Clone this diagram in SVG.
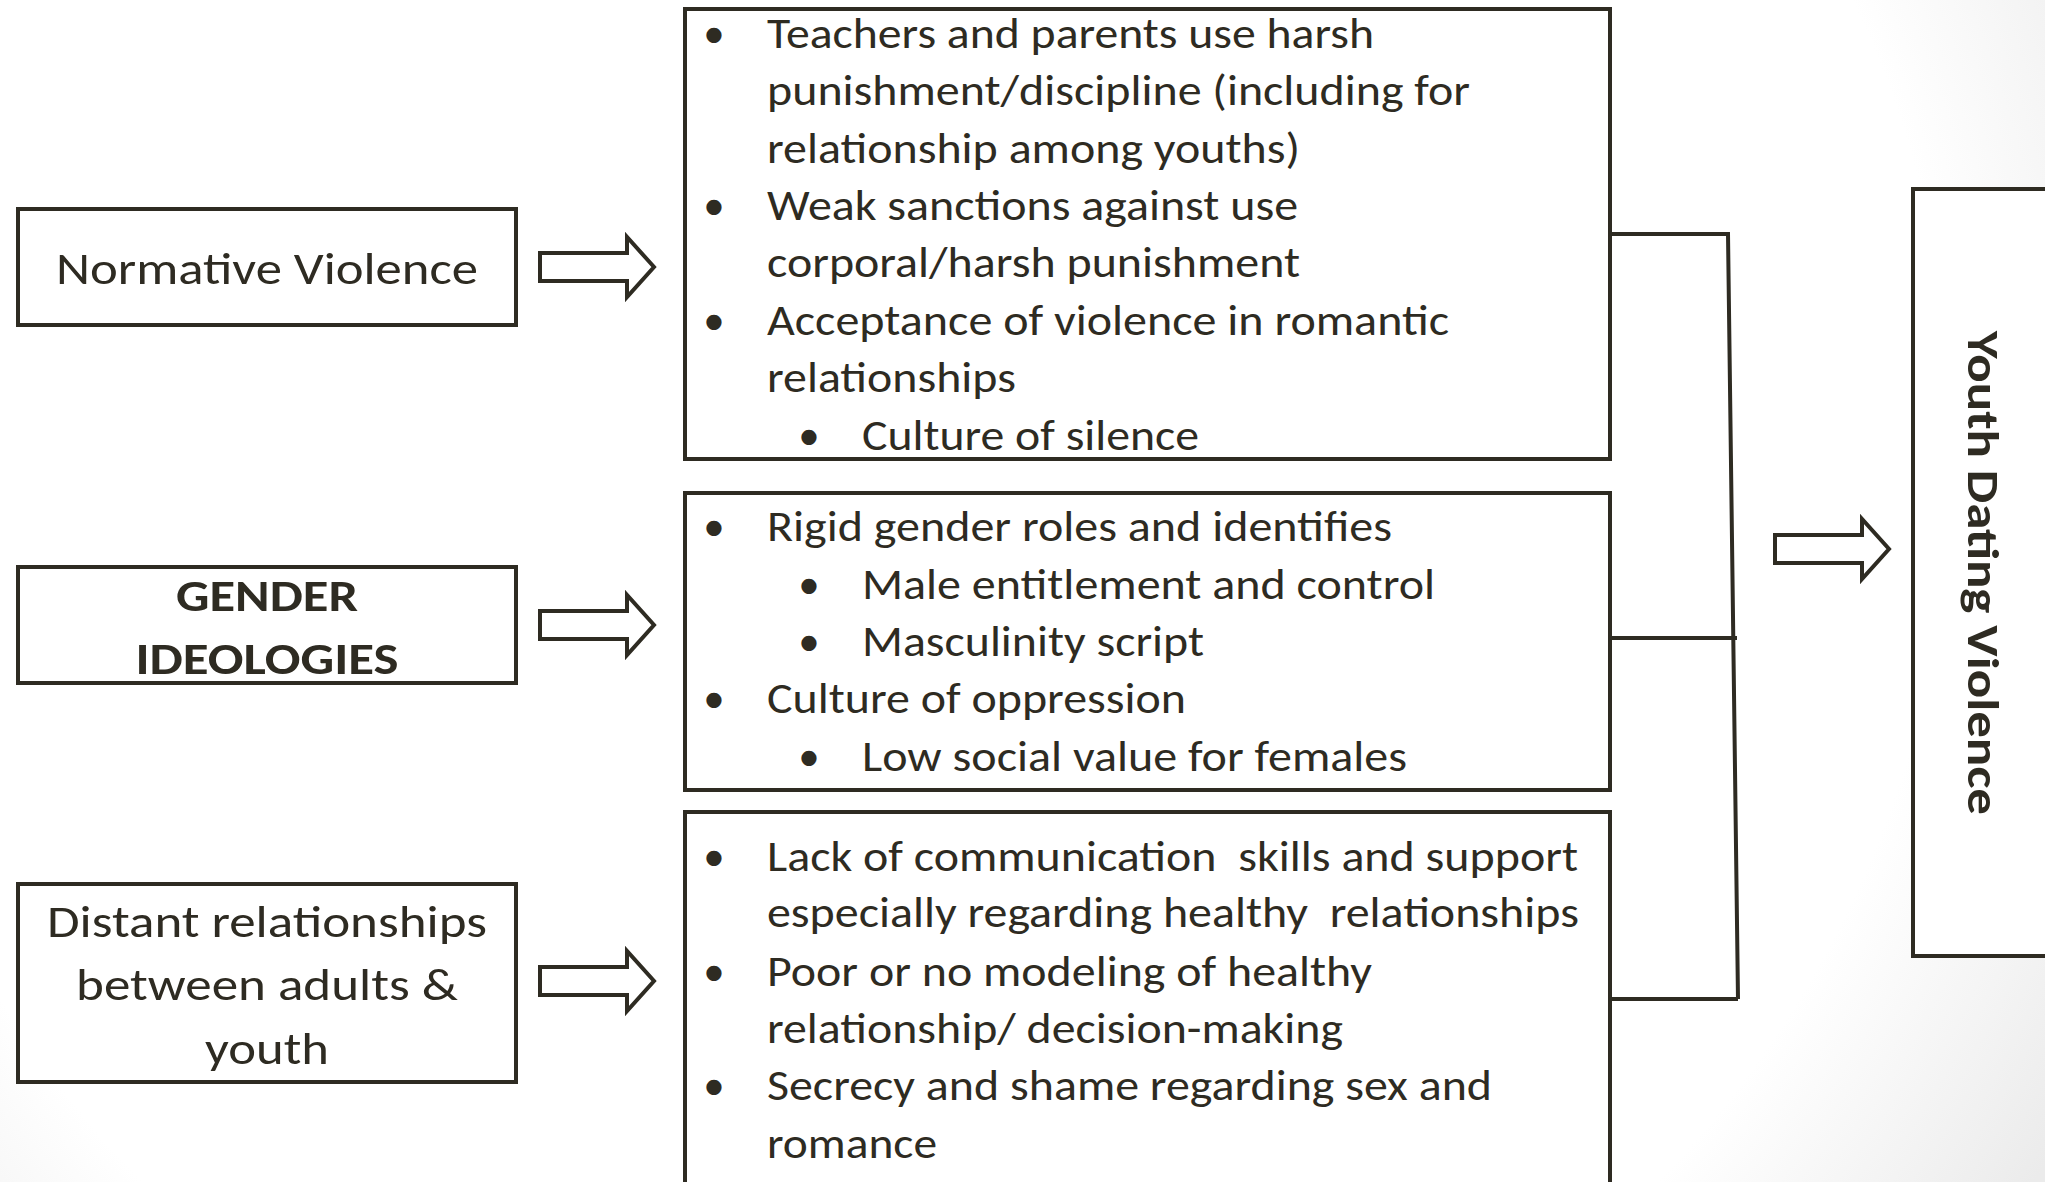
<svg xmlns="http://www.w3.org/2000/svg" width="2045" height="1182" viewBox="0 0 2045 1182">
<defs>
<radialGradient id="bg" cx="900" cy="450" r="1350" gradientUnits="userSpaceOnUse">
<stop offset="0" stop-color="#ffffff"/>
<stop offset="0.78" stop-color="#ffffff"/>
<stop offset="1" stop-color="#ebebeb"/>
</radialGradient>
<path id="arrow" d="M0,-14 H87 V-30 L114,0 L87,30 V14 H0 Z"/>
<style>
.box{fill:#ffffff;stroke:#2e2b22;stroke-width:4;}
.arr{fill:#ffffff;stroke:#2e2b22;stroke-width:4;stroke-linejoin:miter;}
.con{fill:none;stroke:#2e2b22;stroke-width:4;}
.t{font-family:Carlito,Lato,"Noto Sans",sans-serif;fill:#2e2b22;font-size:43px;}
.lt{font-family:Carlito,Lato,"Noto Sans",sans-serif;fill:#2e2b22;font-size:46px;text-anchor:middle;}
.bt{font-family:Carlito,Lato,"Noto Sans",sans-serif;fill:#2e2b22;font-size:45px;font-weight:bold;text-anchor:middle;}
.b{font-family:Carlito,Lato,"Noto Sans",sans-serif;fill:#2e2b22;font-size:43px;text-anchor:middle;}
</style>
</defs>
<rect x="0" y="0" width="2045" height="1182" fill="url(#bg)"/>

<g id="connectors">
<path class="con" d="M1610,234 H1728 L1738,999"/>
<path class="con" d="M1610,638 H1737"/>
<path class="con" d="M1610,999 H1738"/>
<use href="#arrow" class="arr" transform="translate(540,267)"/>
<use href="#arrow" class="arr" transform="translate(540,625)"/>
<use href="#arrow" class="arr" transform="translate(540,981)"/>
<use href="#arrow" class="arr" transform="translate(1775,549)"/>
</g>

<g id="normative-violence">
<rect class="box" x="18" y="209" width="498" height="116"/>
<text class="lt" x="267" y="284" textLength="422" lengthAdjust="spacingAndGlyphs">Normative Violence</text>
</g>

<g id="gender-ideologies">
<rect class="box" x="18" y="567" width="498" height="116"/>
<text class="bt" x="267" y="611" textLength="182" lengthAdjust="spacingAndGlyphs">GENDER</text>
<text class="bt" x="267" y="674" textLength="263" lengthAdjust="spacingAndGlyphs">IDEOLOGIES</text>
</g>

<g id="distant-relationships">
<rect class="box" x="18" y="884" width="498" height="198"/>
<text class="lt" x="267" y="937" textLength="440" lengthAdjust="spacingAndGlyphs">Distant relationships</text>
<text class="lt" x="267" y="1000" textLength="382" lengthAdjust="spacingAndGlyphs">between adults &amp;</text>
<text class="lt" x="267" y="1064" textLength="124" lengthAdjust="spacingAndGlyphs">youth</text>
</g>

<g id="normative-details">
<rect class="box" x="685" y="9" width="925" height="450"/>
<text class="b" x="714" y="48">•</text>
<text class="t" x="767" y="48" textLength="607" lengthAdjust="spacingAndGlyphs">Teachers and parents use harsh</text>
<text class="t" x="767" y="105" textLength="703" lengthAdjust="spacingAndGlyphs">punishment/discipline (including for</text>
<text class="t" x="767" y="163" textLength="533" lengthAdjust="spacingAndGlyphs">relationship among youths)</text>
<text class="b" x="714" y="220">•</text>
<text class="t" x="767" y="220" textLength="531" lengthAdjust="spacingAndGlyphs">Weak sanctions against use</text>
<text class="t" x="767" y="277" textLength="533" lengthAdjust="spacingAndGlyphs">corporal/harsh punishment</text>
<text class="b" x="714" y="335">•</text>
<text class="t" x="767" y="335" textLength="682" lengthAdjust="spacingAndGlyphs">Acceptance of violence in romantic</text>
<text class="t" x="767" y="392" textLength="249" lengthAdjust="spacingAndGlyphs">relationships</text>
<text class="b" x="809" y="450">•</text>
<text class="t" x="862" y="450" textLength="337" lengthAdjust="spacingAndGlyphs">Culture of silence</text>
</g>

<g id="gender-details">
<rect class="box" x="685" y="493" width="925" height="297"/>
<text class="b" x="714" y="541">•</text>
<text class="t" x="767" y="541" textLength="625" lengthAdjust="spacingAndGlyphs">Rigid gender roles and identifies</text>
<text class="b" x="809" y="599">•</text>
<text class="t" x="862" y="599" textLength="573" lengthAdjust="spacingAndGlyphs">Male entitlement and control</text>
<text class="b" x="809" y="656">•</text>
<text class="t" x="862" y="656" textLength="342" lengthAdjust="spacingAndGlyphs">Masculinity script</text>
<text class="b" x="714" y="713">•</text>
<text class="t" x="767" y="713" textLength="419" lengthAdjust="spacingAndGlyphs">Culture of oppression</text>
<text class="b" x="809" y="771">•</text>
<text class="t" x="862" y="771" textLength="545" lengthAdjust="spacingAndGlyphs">Low social value for females</text>
</g>

<g id="relationship-details">
<rect class="box" x="685" y="812" width="925" height="420"/>
<text class="b" x="714" y="871">•</text>
<text class="t" x="767" y="871" textLength="811" lengthAdjust="spacingAndGlyphs" xml:space="preserve">Lack of communication  skills and support</text>
<text class="t" x="767" y="927" textLength="812" lengthAdjust="spacingAndGlyphs" xml:space="preserve">especially regarding healthy  relationships</text>
<text class="b" x="714" y="986">•</text>
<text class="t" x="767" y="986" textLength="605" lengthAdjust="spacingAndGlyphs">Poor or no modeling of healthy</text>
<text class="t" x="767" y="1043" textLength="576" lengthAdjust="spacingAndGlyphs">relationship/ decision-making</text>
<text class="b" x="714" y="1100">•</text>
<text class="t" x="767" y="1100" textLength="725" lengthAdjust="spacingAndGlyphs">Secrecy and shame regarding sex and</text>
<text class="t" x="767" y="1158" textLength="170" lengthAdjust="spacingAndGlyphs">romance</text>
</g>

<g id="youth-dating-violence">
<rect class="box" x="1913" y="189" width="200" height="767"/>
<text class="bt" font-size="50" transform="translate(1968,573) rotate(90)" x="0" y="0" textLength="484" lengthAdjust="spacingAndGlyphs">Youth Dating Violence</text>
</g>
</svg>
